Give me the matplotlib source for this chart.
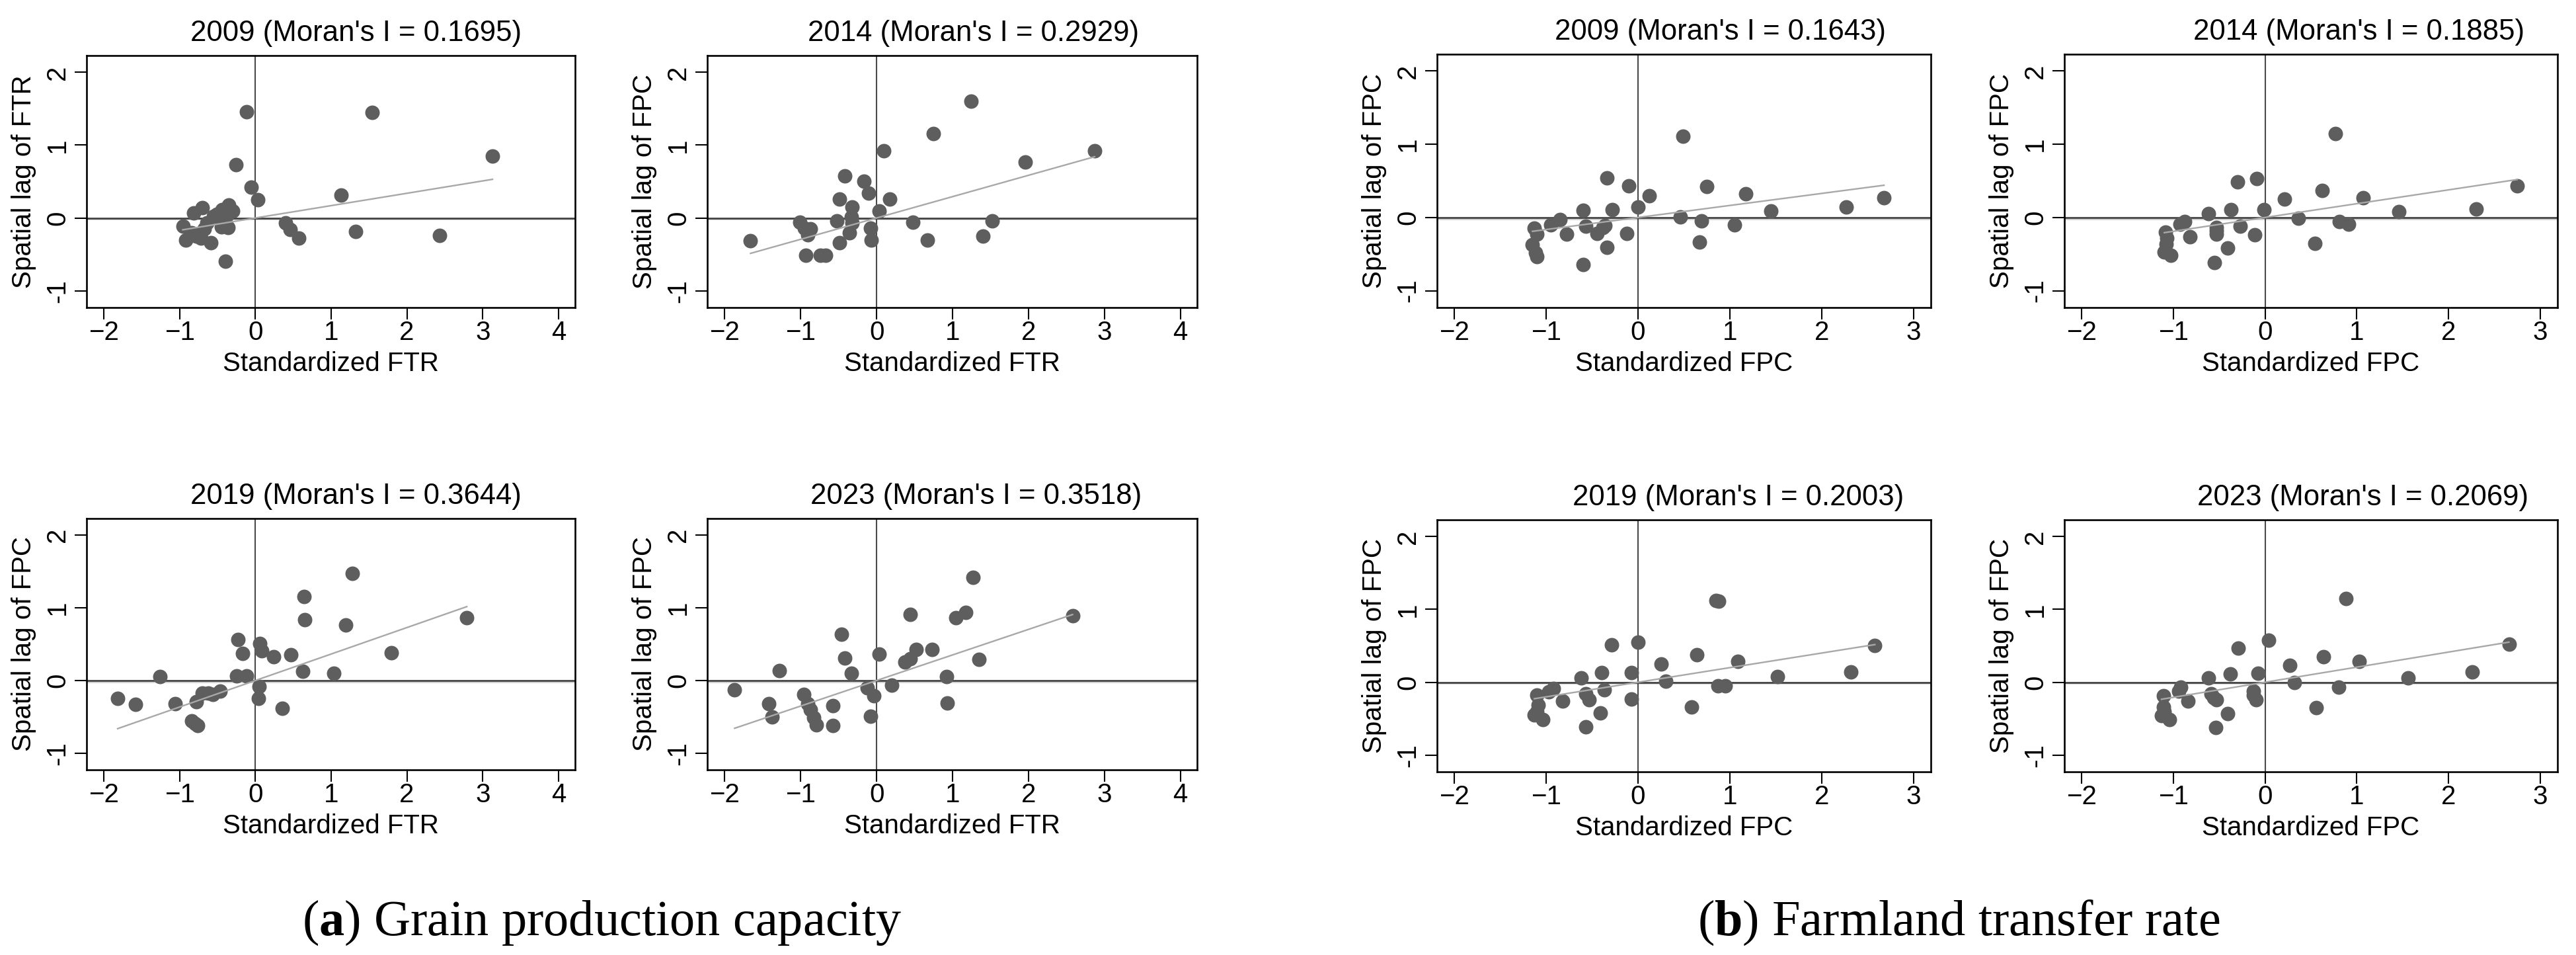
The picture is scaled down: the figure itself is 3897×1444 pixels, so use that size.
import matplotlib
matplotlib.use('Agg')
import matplotlib.pyplot as plt

plt.rcParams['font.family'] = ['Liberation Sans', 'DejaVu Sans']

# ---------------- data ----------------
years = ['2009', '2014', '2019', '2023']
moran_a = [0.1695, 0.2929, 0.3644, 0.3518]
moran_b = [0.1643, 0.1885, 0.2003, 0.2069]

ylabels_a = ['Spatial lag of FTR', 'Spatial lag of FPC', 'Spatial lag of FPC', 'Spatial lag of FPC']
xlabel_a = 'Standardized FTR'
ylabel_b = 'Spatial lag of FPC'
xlabel_b = 'Standardized FPC'
caption_a = 'Grain production capacity'
caption_b = 'Farmland transfer rate'

xticks_a = [-2, -1, 0, 1, 2, 3, 4]
xticks_b = [-2, -1, 0, 1, 2, 3]
yticks = [-1, 0, 1, 2]

# (a) panels
a2009_x = [-0.12, 1.54, 3.13, -0.26, -0.06, 0.03, 1.13, -0.70, -0.82, -0.35, -0.44, -0.51, -0.38,
           -0.96, -0.64, -0.36, -0.92, -0.78, -0.59, -0.40, 0.40, 0.46, 0.57, 1.32, 2.43,
           -0.45, -0.68, -0.84, -0.30, -0.55, -0.72]
a2009_y = [1.46, 1.45, 0.85, 0.73, 0.42, 0.25, 0.31, 0.14, 0.07, 0.18, 0.11, 0.05, 0.03,
           -0.11, -0.07, -0.13, -0.30, -0.25, -0.34, -0.59, -0.07, -0.16, -0.28, -0.19, -0.24,
           -0.12, -0.15, -0.20, 0.10, 0.02, -0.28]

a2014_x = [1.24, 0.75, 0.09, 2.87, 1.96, -0.42, -0.17, -0.11, 0.17, -0.49, -0.32, -0.33, 0.03,
           -0.52, -1.01, -0.87, -0.91, -0.36, -0.08, -0.07, -0.49, -1.66, -0.93, -0.74, -0.67,
           0.48, 0.67, 1.40, 1.52, -0.95, -0.32]
a2014_y = [1.60, 1.16, 0.92, 0.92, 0.77, 0.58, 0.50, 0.34, 0.26, 0.26, 0.15, 0.01, 0.10,
           -0.04, -0.06, -0.15, -0.23, -0.20, -0.14, -0.30, -0.34, -0.31, -0.51, -0.51, -0.51,
           -0.06, -0.30, -0.25, -0.04, -0.14, -0.07]

a2019_x = [1.28, 0.64, 0.65, 1.19, 2.79, -0.23, 0.06, 0.08, -0.17, 0.24, 0.47, 1.79, 0.62,
           1.03, -1.26, -0.25, -0.12, 0.05, 0.04, 0.35, -0.47, -0.62, -0.70, -0.78, -1.06,
           -1.58, -1.82, -0.84, -0.76, -0.80, -0.56]
a2019_y = [1.47, 1.16, 0.84, 0.76, 0.86, 0.56, 0.51, 0.41, 0.37, 0.33, 0.35, 0.38, 0.13,
           0.10, 0.05, 0.06, 0.06, -0.08, -0.25, -0.38, -0.15, -0.17, -0.17, -0.29, -0.32,
           -0.33, -0.25, -0.56, -0.62, -0.59, -0.19]

a2023_x = [1.27, 0.44, 1.04, 1.17, 2.58, -0.46, -0.42, 0.03, 0.52, 0.73, 0.44, 0.37, 1.35,
           -1.28, -0.33, 0.92, 0.20, -0.12, -0.04, -1.87, -0.96, -1.42, -1.38, -0.87, -0.58,
           -0.83, -0.79, -0.58, -0.08, 0.93, -0.91]
a2023_y = [1.42, 0.91, 0.86, 0.94, 0.89, 0.64, 0.31, 0.36, 0.43, 0.43, 0.30, 0.25, 0.29,
           0.14, 0.10, 0.05, -0.06, -0.10, -0.21, -0.13, -0.19, -0.32, -0.50, -0.40, -0.35,
           -0.51, -0.61, -0.62, -0.49, -0.31, -0.32]

# (b) panels
b2009_x = [0.49, -0.34, -0.10, 0.12, 0.75, 1.17, 2.68, 2.27, 1.45, 0.00, -0.28, -0.60, 0.46,
           0.69, 1.05, 0.67, -0.85, -0.95, -1.13, -0.57, -0.36, -0.45, -0.78, -0.12, -1.10,
           -1.15, -1.12, -1.10, -0.34, -0.60, -0.38]
b2009_y = [1.11, 0.54, 0.43, 0.30, 0.42, 0.32, 0.27, 0.14, 0.09, 0.14, 0.11, 0.10, 0.01,
           -0.05, -0.10, -0.34, -0.03, -0.10, -0.15, -0.12, -0.11, -0.22, -0.23, -0.22, -0.23,
           -0.37, -0.48, -0.53, -0.41, -0.64, -0.14]

b2014_x = [0.77, -0.09, -0.30, 0.62, 1.07, 0.21, 2.75, 2.30, 1.46, -0.01, -0.37, -0.62, 0.36,
           0.81, 0.91, 0.54, -0.88, -0.93, -0.27, -0.53, -0.53, -0.82, -0.11, -1.09, -1.08,
           -1.10, -1.03, -0.41, -0.55, -1.07, -0.53]
b2014_y = [1.15, 0.53, 0.49, 0.37, 0.27, 0.25, 0.43, 0.12, 0.08, 0.11, 0.11, 0.05, -0.01,
           -0.06, -0.09, -0.35, -0.06, -0.09, -0.12, -0.14, -0.23, -0.26, -0.24, -0.20, -0.36,
           -0.47, -0.52, -0.42, -0.62, -0.28, -0.18]

b2019_x = [0.85, 0.88, 0.00, -0.29, 2.58, 0.64, 1.09, 0.25, 2.32, 1.52, -0.40, -0.07, -0.62,
           0.30, 0.87, 0.95, -0.92, -0.97, -0.37, -0.57, -0.53, -0.82, -0.07, -1.10, -1.09,
           -1.13, -1.04, -0.41, -0.57, 0.58, -1.10]
b2019_y = [1.12, 1.11, 0.55, 0.51, 0.50, 0.38, 0.29, 0.25, 0.14, 0.08, 0.13, 0.13, 0.06,
           0.01, -0.05, -0.05, -0.09, -0.13, -0.10, -0.16, -0.24, -0.26, -0.23, -0.18, -0.31,
           -0.45, -0.51, -0.42, -0.61, -0.34, -0.40]

b2023_x = [0.88, 0.04, -0.29, 2.66, 0.64, 1.03, 0.27, 2.26, 1.56, -0.38, -0.08, -0.62, 0.32,
           0.80, -0.92, -0.94, -0.59, -0.13, -0.53, -0.84, -0.10, -1.11, -1.11, -1.13, -1.04,
           -0.41, -0.54, 0.56, -1.10, -0.56, -0.13]
b2023_y = [1.15, 0.58, 0.47, 0.52, 0.35, 0.29, 0.23, 0.14, 0.06, 0.11, 0.12, 0.06, 0.00,
           -0.07, -0.07, -0.12, -0.16, -0.12, -0.24, -0.26, -0.24, -0.19, -0.34, -0.46, -0.51,
           -0.43, -0.62, -0.35, -0.40, -0.21, -0.18]

# ---------------- figure ----------------
W, H = 3897, 1444
fig = plt.figure(figsize=(W / 100, H / 100), dpi=100)

PT = 72 / 100  # points per pixel

POINT_C = '#5e5e5e'
LINE_C = '#a8a8a8'

# box positions in pixels: (left, top, right, bottom)
boxes = [
    (131, 84, 870, 465), (1070, 84, 1811, 465), (2174, 82, 2921, 465), (3123, 82, 3869, 465),
    (131, 784, 870, 1164), (1070, 784, 1811, 1164), (2174, 786, 2921, 1167), (3123, 786, 3869, 1167),
]
title_xfrac = [0.551, 0.543, 0.573, 0.597, 0.552, 0.549, 0.61, 0.605]

panels = [
    (a2009_x, a2009_y, moran_a[0], years[0], ylabels_a[0], xlabel_a, xticks_a, (-2.23, 4.22)),
    (a2014_x, a2014_y, moran_a[1], years[1], ylabels_a[1], xlabel_a, xticks_a, (-2.23, 4.22)),
    (b2009_x, b2009_y, moran_b[0], years[0], ylabel_b, xlabel_b, xticks_b, (-2.19, 3.19)),
    (b2014_x, b2014_y, moran_b[1], years[1], ylabel_b, xlabel_b, xticks_b, (-2.19, 3.19)),
    (a2019_x, a2019_y, moran_a[2], years[2], ylabels_a[2], xlabel_a, xticks_a, (-2.23, 4.22)),
    (a2023_x, a2023_y, moran_a[3], years[3], ylabels_a[3], xlabel_a, xticks_a, (-2.23, 4.22)),
    (b2019_x, b2019_y, moran_b[2], years[2], ylabel_b, xlabel_b, xticks_b, (-2.19, 3.19)),
    (b2023_x, b2023_y, moran_b[3], years[3], ylabel_b, xlabel_b, xticks_b, (-2.19, 3.19)),
]

for i, (px, py, mi, yr, ylab, xlab, xt, xlim) in enumerate(panels):
    l, t, r, b = boxes[i]
    ax = fig.add_axes([l / W, 1 - b / H, (r - l) / W, (b - t) / H])
    ax.set_xlim(*xlim)
    ax.set_ylim(-1.23, 2.23)

    # reference lines
    ax.axhline(-0.016, color='#cfcfcf', lw=2.6, zorder=1)
    ax.axhline(0, color='#3f3f3f', lw=1.9, zorder=1.5)
    ax.axvline(0, color='#4a4a4a', lw=1.5, zorder=1.5)

    ax.scatter(px, py, s=250, color=POINT_C, linewidths=0, zorder=2)

    x0, x1 = min(px), max(px)
    ax.plot([x0, x1], [mi * x0, mi * x1], color=LINE_C, lw=1.7, zorder=3)

    for sp in ax.spines.values():
        sp.set_linewidth(1.9)
        sp.set_color('black')

    ax.set_xticks(xt)
    ax.set_xticklabels([str(v).replace('-', '\u2212') for v in xt])
    ax.set_yticks(yticks)
    ax.set_yticklabels([str(v) for v in yticks])
    ax.tick_params(axis='both', direction='out', length=18 * PT, width=1.5, colors='black',
                   labelsize=29)
    ax.tick_params(axis='x', pad=1)
    ax.tick_params(axis='y', pad=26 * PT, labelrotation=90)
    for lab in ax.get_yticklabels():
        lab.set_ha('center')
        lab.set_va('center')

    ax.set_xlabel(xlab, fontsize=29, va='center')
    ax.xaxis.set_label_coords(0.5, -85 / (b - t))
    ax.set_ylabel(ylab, fontsize=29, va='center')
    ax.yaxis.set_label_coords(-95 / (r - l), 0.5)

    ax.text(title_xfrac[i], 1 + 33.5 / (b - t), f"{yr} (Moran's I = {mi:.4f})",
            transform=ax.transAxes, ha='center', va='center', fontsize=31.5)

# captions
fig.text(911 / W, 1 - 1395 / H, r'($\mathbf{a}$) ' + caption_a, ha='center', va='center',
         fontsize=55, family='Liberation Serif', math_fontfamily='custom')
fig.text(2963 / W, 1 - 1395 / H, r'($\mathbf{b}$) ' + caption_b, ha='center', va='center',
         fontsize=55, family='Liberation Serif', math_fontfamily='custom')

plt.rcParams['mathtext.bf'] = 'Liberation Serif:bold'

fig.savefig('out.png', dpi=100, facecolor='white')
